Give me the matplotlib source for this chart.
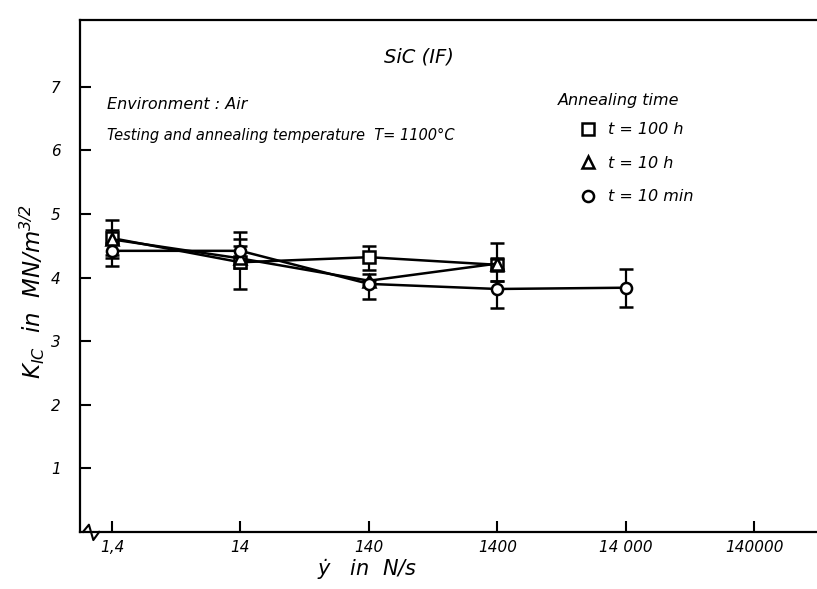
import numpy as np
import matplotlib
matplotlib.use('Agg')
import matplotlib.pyplot as plt
from matplotlib.lines import Line2D

# loading rate (N/s) and K_IC values
xticklabels = ['1,4', '14', '140', '1400', '14 000', '140000']
xticks = [1.4, 14, 140, 1400, 14000, 140000]

rate_100h = [1.4, 14, 140, 1400]
k_100h = [4.62, 4.24, 4.32, 4.2]
lo_100h = [4.30, 4.15, 4.12, 4.13]
hi_100h = [4.90, 4.72, 4.50, 4.30]

rate_10h = [1.4, 14, 140, 1400]
k_10h = [4.6, 4.30, 3.95, 4.22]
lo_10h = [4.35, 4.20, 3.88, 3.94]
hi_10h = [4.75, 4.60, 4.05, 4.54]

rate_10min = [1.4, 14, 140, 1400, 14000]
k_10min = [4.42, 4.42, 3.90, 3.82, 3.84]
lo_10min = [4.18, 3.82, 3.66, 3.52, 3.54]
hi_10min = [4.55, 4.50, 3.95, 3.95, 4.14]

plt.rcParams['font.family'] = 'DejaVu Sans'
plt.rcParams['font.style'] = 'italic'
plt.rcParams['mathtext.fontset'] = 'dejavusans'

fig = plt.figure(figsize=(8.17, 5.89), dpi=100)
ax = fig.add_axes([0.098, 0.097, 0.902, 0.869])

series = [
    (rate_100h, k_100h, lo_100h, hi_100h, 's', 't = 100 h'),
    (rate_10h, k_10h, lo_10h, hi_10h, '^', 't = 10 h'),
    (rate_10min, k_10min, lo_10min, hi_10min, 'o', 't = 10 min'),
]
handles = []
for x, y, lo, hi, m, lab in series:
    y = np.array(y)
    err = [y - np.array(lo), np.array(hi) - y]
    ax.errorbar(x, y, yerr=err, fmt='-', marker=m, color='black', lw=1.8,
                ms=8, mfc='white', mec='black', mew=1.8, capsize=5,
                elinewidth=1.6, capthick=1.6)
    handles.append(Line2D([], [], marker=m, ls='none', ms=8, mfc='white',
                          mec='black', mew=1.8, label=lab))

ax.set_xscale('log')
ax.set_xlim(0.79, 4.3e5)
ax.set_ylim(0, 8.05)
ax.set_xticks(xticks)
ax.set_xticklabels(xticklabels)
ax.minorticks_off()
ax.set_yticks([1, 2, 3, 4, 5, 6, 7])
ax.tick_params(direction='in', length=8, width=1.5, labelsize=11, pad=6)
ax.tick_params(axis='y', pad=14)
for s in ['left', 'bottom', 'top']:
    ax.spines[s].set_linewidth(1.6)
ax.spines['right'].set_visible(False)

ax.set_ylabel(r'$K_{IC}$  in  MN/m$^{3/2}$', fontsize=16.5)
ax.yaxis.set_label_coords(-0.045, 0.47)
ax.set_xlabel(r'$\dot{y}$   in  N/s', fontsize=15, va='top')
ax.xaxis.set_label_coords(0.39, -0.05)

ax.text(0.46, 0.928, 'SiC (IF)', transform=ax.transAxes, fontsize=14,
        ha='center', va='center')
ax.text(0.037, 0.835, 'Environment : Air', transform=ax.transAxes,
        fontsize=11.5, va='center')
ax.text(0.037, 0.775, 'Testing and annealing temperature  T= 1100°C',
        transform=ax.transAxes, fontsize=10.5, va='center')

ax.text(0.649, 0.843, 'Annealing time', transform=ax.transAxes,
        fontsize=11.5, va='center')
leg = ax.legend(handles=handles, loc='upper left', bbox_to_anchor=(0.68, 0.80),
                frameon=False, fontsize=11.5, handlelength=0.8,
                handletextpad=0.9, labelspacing=1.15, numpoints=1,
                borderpad=0, borderaxespad=0)

# axis break mark near the origin
ax.plot([0.004, 0.024], [0.0, 0.0], transform=ax.transAxes, color='white',
        lw=3, clip_on=False, zorder=2)
ax.plot([0.004, 0.012, 0.018, 0.026], [0.0, 0.014, -0.016, 0.0],
        transform=ax.transAxes, color='black', lw=1.5, clip_on=False, zorder=3)

fig.savefig('out.png', dpi=100)
